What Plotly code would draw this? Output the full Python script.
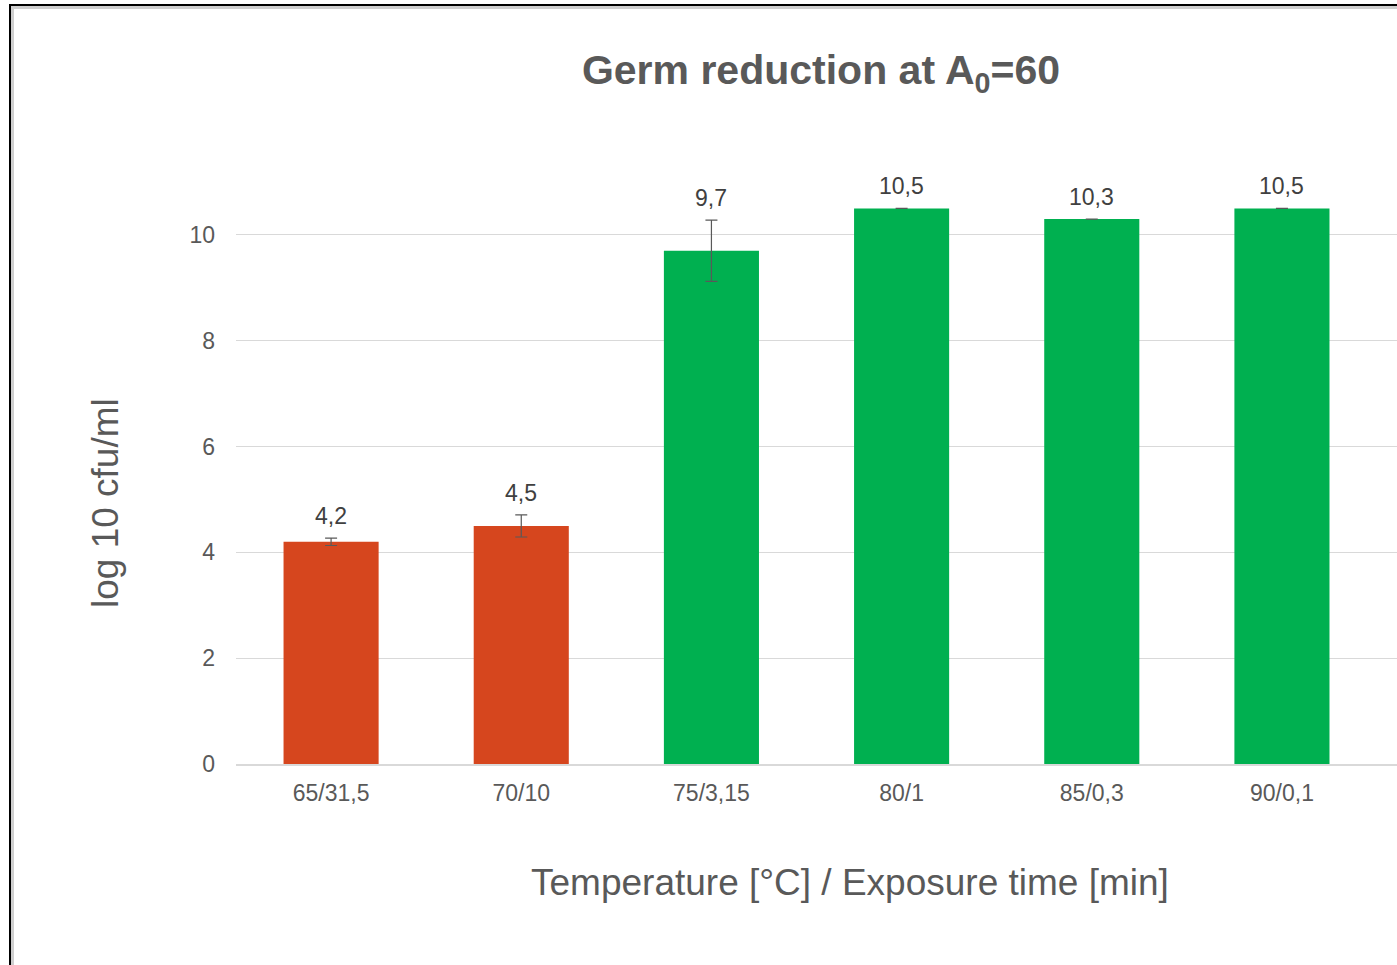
import plotly.graph_objects as go

categories = ["65/31,5", "70/10", "75/3,15", "80/1", "85/0,3", "90/0,1"]
values = [4.2, 4.5, 9.7, 10.5, 10.3, 10.5]
errors = [0.07, 0.21, 0.58, 0.0, 0.0, 0.0]
labels = ["4,2", "4,5", "9,7", "10,5", "10,3", "10,5"]
bar_colors = ["#D6461E", "#D6461E", "#00B050", "#00B050", "#00B050", "#00B050"]
y_ticks = [0, 2, 4, 6, 8, 10]

FONT = "Liberation Sans, Arial, sans-serif"
W, H = 1397, 965
L, R, T, B = 236, 0, 182, 201
pw, ph = W - L - R, H - T - B

def px_x(x):
    return (x - L) / pw

def px_y(y):
    return (H - B - y) / ph

fig = go.Figure()
fig.add_trace(go.Bar(
    x=categories, y=values, width=0.5,
    marker=dict(color=bar_colors, line=dict(width=0)),
    error_y=dict(type="data", array=errors, visible=True,
                 color="#595959", thickness=1.2, width=6),
    hoverinfo="skip", showlegend=False,
))

label_annotations = [
    dict(x=c, y=v + e, xref="x", yref="y", text=t, showarrow=False,
         xanchor="center", yanchor="bottom", yshift=7,
         font=dict(family=FONT, size=23, color="#404040"))
    for c, v, e, t in zip(categories, values, errors, labels)
]

fig.update_layout(
    width=W, height=H,
    margin=dict(l=L, r=R, t=T, b=B),
    paper_bgcolor="white", plot_bgcolor="white",
    title=dict(text="<b>Germ reduction at A<sub>0</sub>=60</b>",
               x=821 / W, xanchor="center", y=1 - 70 / H, yanchor="middle",
               yref="container",
               font=dict(family=FONT, size=41, color="#595959")),
    bargap=0.5,
    xaxis=dict(range=[-0.5, 5.605], showgrid=False, showline=True,
               linecolor="#D9D9D9", linewidth=2, zeroline=False,
               ticks="", ticklabelstandoff=7,
               tickfont=dict(family=FONT, size=23, color="#595959")),
    yaxis=dict(range=[0, 11], tickvals=y_ticks, showgrid=True,
               gridcolor="#D9D9D9", gridwidth=1, zeroline=False,
               showline=False, ticks="", ticklabelstandoff=20,
               tickfont=dict(family=FONT, size=23, color="#595959")),
    annotations=label_annotations + [
        dict(text="log 10 cfu/ml", xref="paper", yref="paper",
             x=px_x(105), y=px_y(503), textangle=-90, showarrow=False,
             xanchor="center", yanchor="middle",
             font=dict(family=FONT, size=37, color="#595959")),
        dict(text="Temperature [°C] / Exposure time [min]", xref="paper", yref="paper",
             x=px_x(850), y=px_y(882), showarrow=False,
             xanchor="center", yanchor="middle",
             font=dict(family=FONT, size=37, color="#595959")),
    ],
    shapes=[
        dict(type="line", xref="paper", yref="paper",
             x0=px_x(12.5), x1=px_x(12.5), y0=px_y(7), y1=px_y(970),
             line=dict(color="#CFCFCF", width=3)),
        dict(type="line", xref="paper", yref="paper",
             x0=px_x(11), x1=px_x(1400), y0=px_y(7.5), y1=px_y(7.5),
             line=dict(color="#CFCFCF", width=3)),
        dict(type="line", xref="paper", yref="paper",
             x0=px_x(10), x1=px_x(10), y0=px_y(5), y1=px_y(970),
             line=dict(color="#000000", width=2)),
        dict(type="line", xref="paper", yref="paper",
             x0=px_x(9), x1=px_x(1400), y0=px_y(5), y1=px_y(5),
             line=dict(color="#000000", width=2)),
    ],
)

fig.write_html("out.html", config={"displayModeBar": False},
               post_script="document.body.style.margin='0';")
